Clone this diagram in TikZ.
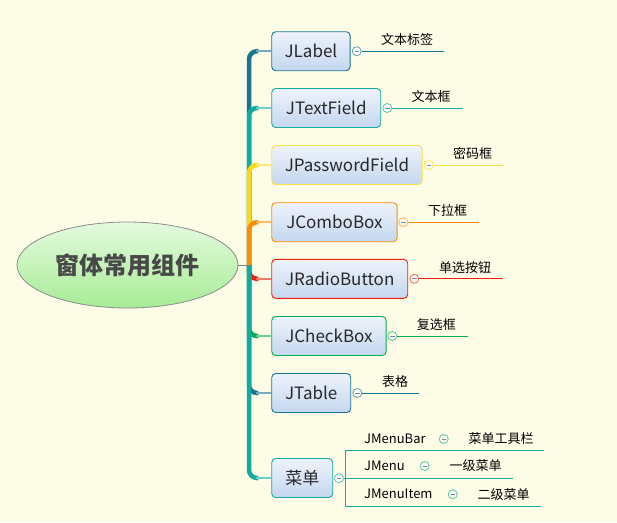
\documentclass[tikz,border=0pt]{standalone}
\usepackage{fontspec}
\setmainfont{Noto Sans CJK SC}
\usetikzlibrary{calc,shapes.geometric}
\definecolor{bgc}{RGB}{253,252,231}
\definecolor{cdark}{RGB}{24,117,145}
\definecolor{cteal}{RGB}{18,172,158}
\definecolor{cyel}{RGB}{250,218,20}
\definecolor{corange}{RGB}{255,140,0}
\definecolor{cred}{RGB}{240,30,10}
\definecolor{cgreen}{RGB}{0,176,80}
\definecolor{nodetop}{RGB}{238,243,251}
\definecolor{nodebot}{RGB}{196,215,239}
\definecolor{textc}{RGB}{40,40,40}
\definecolor{minusc}{RGB}{120,135,170}
\tikzset{
  mn/.style={draw=#1, rounded corners=4pt, line width=0.9pt, top color=nodetop, bottom color=nodebot,
    minimum height=39pt, anchor=west, inner sep=0pt, font=\fontsize{17}{20}\selectfont, text=textc},
  coll/.style={circle, draw=#1, fill=bgc!40!white, minimum size=9pt, inner sep=0pt, line width=0.8pt,
    path picture={\draw[minusc, line width=0.7pt] ([xshift=-2.2pt]path picture bounding box.center) -- ([xshift=2.2pt]path picture bounding box.center);}},
  br/.style={line width=4.5pt, rounded corners=8pt},
  hz/.style={line width=1.8pt},
  lab/.style={font=\fontsize{13}{15}\selectfont, text=black, inner sep=0pt},
  sub/.style={font=\fontsize{13}{15}\selectfont, text=black, inner sep=0pt, anchor=west},
  ln/.style={line width=0.9pt}
}
\begin{document}
\begin{tikzpicture}[x=1pt,y=-1pt]
\fill[bgc] (0,0) rectangle (617,522);
\useasboundingbox (0,0) rectangle (617,522);

% root
\node[ellipse, draw=gray!90, line width=0.8pt, minimum width=221pt, minimum height=86pt, inner sep=0pt,
  top color={rgb,255:red,228;green,250;blue,222}, bottom color={rgb,255:red,168;green,236;blue,150},
  font=\fontsize{24}{28}\selectfont\bfseries, text={rgb,255:red,72;green,72;blue,72}] (root) at (127.5,265) {窗体常用组件};
\coordinate (hub) at (249,265);

% main nodes
\node[mn=cdark, minimum width=78.4pt] (n1) at (271.3,51.2) {JLabel};
\node[mn=cteal, minimum width=109pt] (n2) at (271.3,108) {JTextField};
\node[mn=cyel!80!white, minimum width=150.4pt] (n3) at (271.3,165) {JPasswordField};
\node[mn=corange, minimum width=125.4pt] (n4) at (271.3,222.2) {JComboBox};
\node[mn=cred, minimum width=136pt] (n5) at (271.3,278.8) {JRadioButton};
\node[mn=cgreen, minimum width=114.4pt] (n6) at (271.3,336) {JCheckBox};
\node[mn=cdark, minimum width=79pt] (n7) at (271.3,393) {JTable};
\node[mn=cteal, minimum width=61pt] (n8) at (271.3,478) {菜单};

% branches (top)
\draw[br, cdark] (hub) |- ($(n1.west)+(-13,0)$);
\draw[hz, cdark!60] ($(n1.west)+(-15,0)$) -- (n1.west);
\draw[br, cteal] (hub) |- ($(n2.west)+(-13,0)$);
\draw[hz, cteal!60] ($(n2.west)+(-15,0)$) -- (n2.west);
\draw[br, cyel] (hub) |- ($(n3.west)+(-13,0)$);
\draw[hz, cyel!60] ($(n3.west)+(-15,0)$) -- (n3.west);
\draw[br, corange] (hub) |- ($(n4.west)+(-13,0)$);
\draw[hz, corange!60] ($(n4.west)+(-15,0)$) -- (n4.west);
% branches (bottom)
\draw[br, cred] (hub) |- ($(n5.west)+(-13,0)$);
\draw[hz, cred!60] ($(n5.west)+(-15,0)$) -- (n5.west);
\draw[br, cgreen] (hub) |- ($(n6.west)+(-13,0)$);
\draw[hz, cgreen!60] ($(n6.west)+(-15,0)$) -- (n6.west);
\draw[br, cdark] (hub) |- ($(n7.west)+(-13,0)$);
\draw[hz, cdark!60] ($(n7.west)+(-15,0)$) -- (n7.west);
\draw[br, cteal] (hub) |- ($(n8.west)+(-13,0)$);
\draw[hz, cteal!60] ($(n8.west)+(-15,0)$) -- (n8.west);

\draw[gray, line width=0.8pt] (root.east) -- (hub);

% collapse circles
\node[coll=cdark!70] (c1) at (356.7,51.2) {};
\node[coll=cteal!70] (c2) at (387.3,108) {};
\node[coll=cyel!70] (c3) at (428.7,165) {};
\node[coll=corange!70] (c4) at (403.3,222.2) {};
\node[coll=cred!70] (c5) at (414.3,278.8) {};
\node[coll=cgreen!70] (c6) at (392.3,336) {};
\node[coll=cdark!70] (c7) at (357.3,393) {};
\node[coll=cteal!70] (c8) at (339,478.3) {};

% label lines
\coordinate (e1) at (444,51.2);
\coordinate (e2) at (462.7,108);
\coordinate (e3) at (503,165);
\coordinate (e4) at (478.7,222.2);
\coordinate (e5) at (502.7,278.8);
\coordinate (e6) at (467.7,336);
\coordinate (e7) at (419.3,393);
\draw[ln, cdark] (c1) -- (e1);
\draw[ln, cteal] (c2) -- (e2);
\draw[ln, cyel!80] (c3) -- (e3);
\draw[ln, corange] (c4) -- (e4);
\draw[ln, cred] (c5) -- (e5);
\draw[ln, cgreen] (c6) -- (e6);
\draw[ln, cdark] (c7) -- (e7);

\node[lab] (l1) at (407,40) {文本标签};
\node[lab] (l2) at (431,96.7) {文本框};
\node[lab] (l3) at (472.5,153) {密码框};
\node[lab] (l4) at (447.5,210.7) {下拉框};
\node[lab] (l5) at (465,267.7) {单选按钮};
\node[lab] (l6) at (436.3,324.3) {复选框};
\node[lab] (l7) at (395,381.7) {表格};

% menu sub tree
\coordinate (vb) at (345.3,478.3);
\coordinate (m1e) at (544.3,450.3);
\coordinate (m2e) at (512.7,478.3);
\coordinate (m3e) at (541,506);
\draw[ln, cteal] (m1e) -| (vb) |- (m3e);
\draw[ln, cteal] (c8) -- (m2e);

\node[sub] (s1) at (364,439) {JMenuBar};
\node[coll=cteal!70, fill=none] (d1) at (443.7,439) {};
\node[sub] (t1) at (468.3,439) {菜单工具栏};
\node[sub] (s2) at (364,466) {JMenu};
\node[coll=cteal!70, fill=none] (d2) at (424.7,466) {};
\node[sub] (t2) at (449.3,466) {一级菜单};
\node[sub] (s3) at (364,494.3) {JMenuItem};
\node[coll=cteal!70, fill=none] (d3) at (452.7,494.3) {};
\node[sub] (t3) at (477.3,494.3) {二级菜单};
\end{tikzpicture}
\end{document}
